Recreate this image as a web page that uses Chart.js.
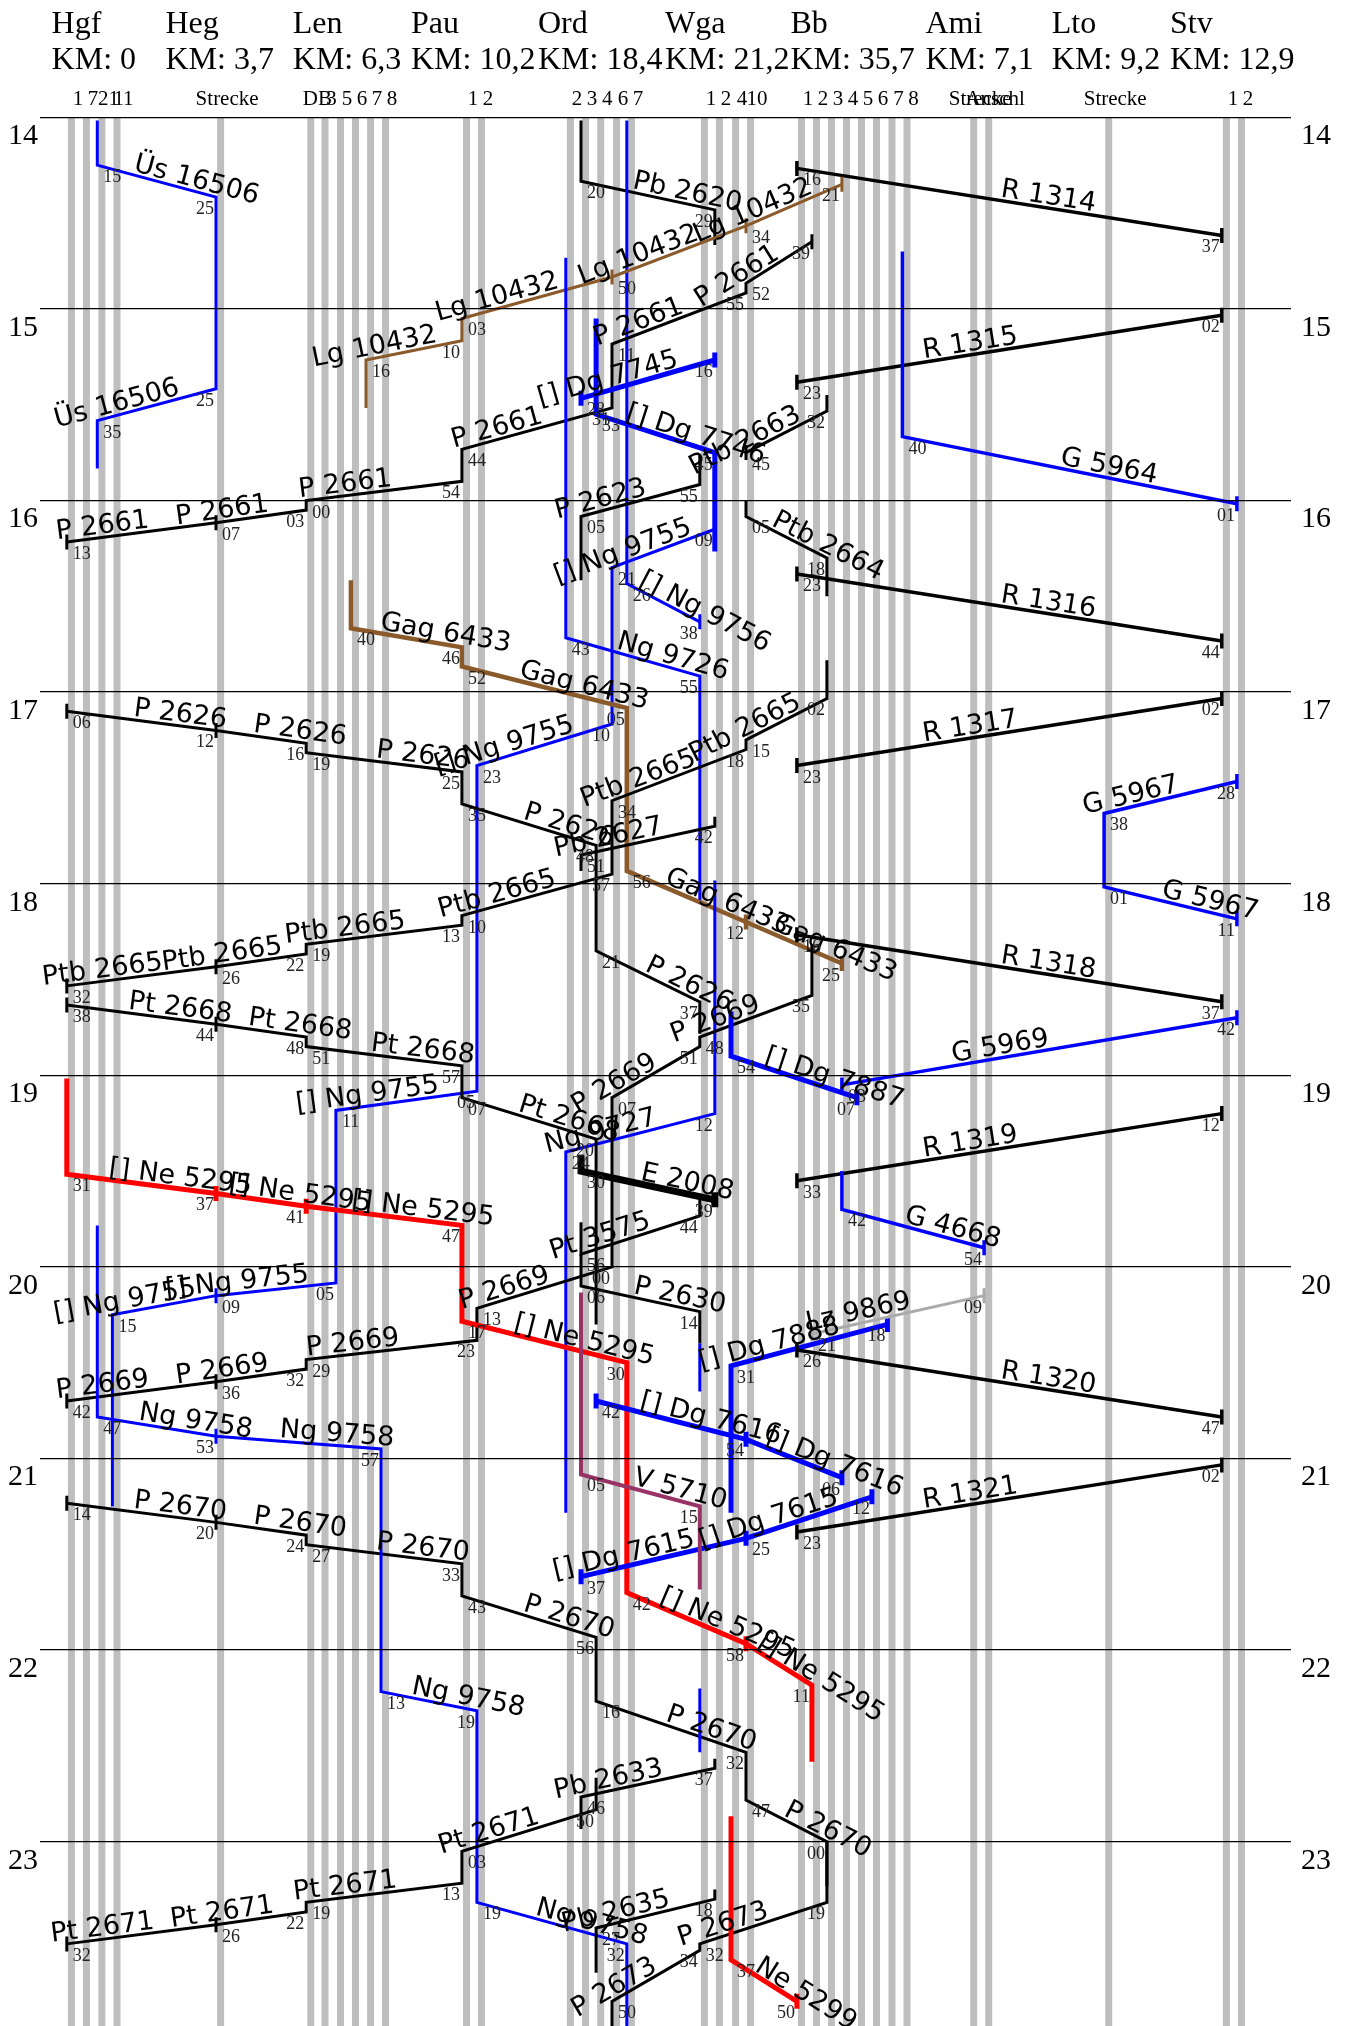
<!DOCTYPE html>
<html>
<head>
<meta charset="utf-8">
<title>Bildfahrplan Hgf - Stv</title>
<script src="https://cdn.jsdelivr.net/npm/chart.js@4/dist/chart.umd.min.js"></script>
<style>
  html, body { margin: 0; padding: 0; background: #fff; }
  canvas { display: block; }
</style>
</head>
<body>
<canvas id="graph" width="1348" height="2026"></canvas>
<script>
// ── Stations and tracks ───────────────────────────────────────────────────────
const STATION_NAMES = ["Hgf", "Heg", "Len", "Pau", "Ord", "Wga", "Bb", "Ami", "Lto", "Stv"];
const STATION_KM    = ["KM: 0", "KM: 3,7", "KM: 6,3", "KM: 10,2", "KM: 18,4", "KM: 21,2", "KM: 35,7", "KM: 7,1", "KM: 9,2", "KM: 12,9"];
const STATION_POS   = [51.6, 165.5, 292.8, 411, 538, 665, 790.4, 925.4, 1051.8, 1170];

const TRACK_IDS = ["Hg1", "Hg7", "Hg21", "Hg11", "He", "LeDB", "Le3", "Le5", "Le6", "Le7", "Le8", "Pa1", "Pa2",
  "Or2", "Or3", "Or4", "Or6", "Or7", "Wg1", "Wg2", "Wg4", "Wg10",
  "Bb1", "Bb2", "Bb3", "Bb4", "Bb5", "Bb6", "Bb7", "Bb8", "AmS", "AmA", "Lt", "St1", "St2"];
const TRACK_LABELS = ["1", "7", "21", "11", "Strecke", "DB", "3", "5", "6", "7", "8", "1", "2",
  "2", "3", "4", "6", "7", "1", "2", "4", "10",
  "1", "2", "3", "4", "5", "6", "7", "8", "Strecke", "Anschl", "Strecke", "1", "2"];
const TRACK_POS = [71.4, 86.4, 101.9, 117, 220.6, 310.8, 325, 340.5, 355.5, 370.6, 385.6, 466.5, 481.5,
  570.4, 585.6, 600.7, 616.6, 631.4, 704.4, 719.4, 735.6, 750.6,
  801.5, 816.5, 831.5, 846.5, 861.5, 876.5, 892, 907, 973.7, 988.7, 1108.7, 1226.4, 1241.5];

// ── Trains: "track time [m = print minute, t = print minute + tick]" ──────────
const TRAIN_NAMES = [
  "Üs 16506", "Pb 2620", "[] Ng 9756", "R 1314", "Lg 10432", "P 2661", "[] Dg 7745", "[] Dg 7746",
  "Ng 9726", "R 1315", "Ptb 2663", "P 2623", "Ptb 2664", "R 1316", "G 5964", "[] Ng 9755",
  "Gag 6433", "P 2626", "Pb 2627", "Ptb 2665", "R 1317", "G 5967", "R 1318", "Ng 9727",
  "P 2669", "Pt 2668", "[] Dg 7887", "G 5969", "R 1319", "G 4668", "[] Ne 5295", "Pt 3575",
  "E 2008", "P 2630", "", "[] Dg 7888", "Lz 9869", "R 1320", "[] Dg 7616", "[] Dg 7615",
  "V 5710", "R 1321", "P 2670", "", "Ng 9758", "Pb 2633", "Pt 2671", "Pb 2635", "P 2673", "Ne 5299",
];
const TRAIN_STOPS = [
  "Hg21 14:01,Hg21 14:15 m,He 14:25 m,He 15:25 m,Hg21 15:35 m,Hg21 15:50",
  "Or3 14:01,Or3 14:20 m,Wg2 14:29 m,Wg2 14:40",
  "Or7 14:01,Or7 16:26 m,Wg1 16:38 t",
  "Bb1 14:16 t,St1 14:37 t",
  "Le7 15:31,Le7 15:16 m,Pa1 15:10 m,Pa1 15:03 m,Or6 14:50 t,Wg10 14:34 t,Bb4 14:21 t",
  "Hg1 16:13 t,He 16:07 t,LeDB 16:03 m,LeDB 16:00 m,Pa1 15:54 m,Pa1 15:44 m,Or6 15:31 m,Or6 15:11 m,Wg10 14:55 m,Wg10 14:52 m,Bb2 14:39 t",
  "Or3 15:28 t,Wg2 15:16 t",
  "Or4 15:03,Or4 15:33 m,Wg2 15:45 m,Wg2 16:16",
  "Or2 14:44,Or2 16:43 m,Wg1 16:55 m,Wg1 18:06",
  "Bb1 15:23 t,St1 15:02 t",
  "Wg10 15:45 t,Bb3 15:32 m,Bb3 15:27",
  "Or3 16:25,Or3 16:05 m,Wg1 15:55 m,Wg1 15:46",
  "Wg10 16:00,Wg10 16:05 m,Bb3 16:18 m,Bb3 16:30",
  "Bb1 16:23 t,St1 16:44 t",
  "Bb8 14:42,Bb8 15:40 m,St2 16:01 t",
  "Wg2 16:09 m,Or6 16:21 m,Or6 17:10 m,Pa2 17:23 m,Pa2 19:05 m,Le5 19:11 m,Le5 20:05 m,He 20:09 t,Hg11 20:15 m,Hg11 21:15",
  "Le6 16:25,Le6 16:40 m,Pa1 16:46 m,Pa1 16:52 m,Or7 17:05 m,Or7 17:56 m,Wg10 18:12 t,Bb4 18:25 t",
  "Hg1 17:06 t,He 17:12 t,LeDB 17:16 m,LeDB 17:19 m,Pa1 17:25 m,Pa1 17:35 m,Or4 17:48 m,Or4 18:21 m,Wg1 18:37 m,Wg1 18:47",
  "Or3 17:56,Or3 17:51 m,Wg2 17:42 m,Wg2 17:39",
  "Hg1 18:32 t,He 18:26 t,LeDB 18:22 m,LeDB 18:19 m,Pa1 18:13 m,Pa1 18:10 m,Or6 17:57 m,Or6 17:34 m,Wg10 17:18 m,Wg10 17:15 m,Bb3 17:02 m,Bb3 16:50",
  "Bb1 17:23 t,St1 17:02 t",
  "St2 17:28 t,Lt 17:38 m,Lt 18:01 m,St2 18:11 t",
  "Bb1 18:16 t,St1 18:37 t",
  "Wg2 17:59,Wg2 19:12 m,Or2 19:24 m,Or2 21:17",
  "Hg1 20:42 t,He 20:36 t,LeDB 20:32 m,LeDB 20:29 m,Pa2 20:23 m,Pa2 20:13 m,Or6 20:00 m,Or6 19:07 m,Wg1 18:51 m,Wg1 18:48 m,Bb2 18:35 m,Bb2 18:19",
  "Hg1 18:38 t,He 18:44 t,LeDB 18:48 m,LeDB 18:51 m,Pa1 18:57 m,Pa1 19:07 m,Or4 19:20 m,Or4 20:18",
  "Wg4 18:40,Wg4 18:54 m,Bb5 19:07 t",
  "Bb4 19:03 t,St2 18:42 t",
  "Bb1 19:33 t,St1 19:12 t",
  "Bb4 19:30,Bb4 19:42 m,AmA 19:54 t",
  "Hg1 19:01,Hg1 19:31 m,He 19:37 t,LeDB 19:41 t,Pa1 19:47 m,Pa1 20:17 m,Or7 20:30 m,Or7 21:42 m,Wg10 21:58 t,Bb2 22:11 m,Bb2 22:35",
  "Wg1 19:38,Wg1 19:44 m,Or3 19:56 m,Or3 19:46",
  "Or3 19:25,Or3 19:30 m,Wg2 19:39 t",
  "Or3 19:56,Or3 20:06 m,Wg1 20:14 m,Wg1 20:24",
  "Wg1 20:24,Wg1 20:39",
  "Wg4 21:17,Wg4 20:31 m,Bb7 20:18 t",
  "Bb2 20:21 t,AmA 20:09 t",
  "Bb1 20:26 t,St1 20:47 t",
  "Or4 20:42 t,Wg10 20:54 t,Bb4 21:06 t",
  "Or3 21:37 t,Wg10 21:25 t,Bb6 21:12 t",
  "Or3 20:08,Or3 21:05 m,Wg1 21:15 m,Wg1 21:41",
  "Bb1 21:23 t,St1 21:02 t",
  "Hg1 21:14 t,He 21:20 t,LeDB 21:24 m,LeDB 21:27 m,Pa1 21:33 m,Pa1 21:43 m,Or4 21:56 m,Or4 22:16 m,Wg10 22:32 m,Wg10 22:47 m,Bb3 23:00 m,Bb3 23:14",
  "Wg1 22:12,Wg1 22:32",
  "Hg21 19:47,Hg21 20:47 m,He 20:53 t,Le8 20:57 m,Le8 22:13 m,Pa2 22:19 m,Pa2 23:19 m,Or7 23:32 m,Or7 23:58",
  "Or3 22:56,Or3 22:46 m,Wg2 22:37 m,Wg2 22:34",
  "Hg1 23:32 t,He 23:26 t,LeDB 23:22 m,LeDB 23:19 m,Pa1 23:13 m,Pa1 23:03 m,Or4 22:50 m,Or4 22:40",
  "Or4 23:41,Or4 23:27 m,Wg2 23:18 m,Wg2 23:15",
  "Or6 23:58,Or6 23:50 m,Wg1 23:34 m,Wg1 23:32 m,Bb3 23:19 m,Bb3 23:00",
  "Wg4 22:52,Wg4 23:37 m,Bb1 23:50 t",
];
const HOURS = [14, 15, 16, 17, 18, 19, 20, 21, 22, 23];

// ── Look ──────────────────────────────────────────────────────────────────────
const CLASS_STYLE = {
  "":  ["#0000ff", 3],   "Üs": ["#0000ff", 3],   "Ng": ["#0000ff", 3],   "G":   ["#0000ff", 3.5],
  Dg:  ["#0000ff", 5],   Ne:   ["#ff0000", 5],   R:    ["#000000", 3.5], E:     ["#000000", 7],
  P:   ["#000000", 3],   Pb:   ["#000000", 3],   Pt:   ["#000000", 3],   Ptb:   ["#000000", 3],
  Lg:  ["#8b5a2b", 3],   Gag:  ["#8b5a2b", 4.5], V:    ["#993366", 4],   Lz:    ["#aaaaaa", 3],
};
const LINE_OFFSET = -4.6;   // train lines run along the left side of the grey track bands
const Y_MIN = 14, Y_MAX = 14 + (2026 - 117.3) / 191.6;

const trackPos = id => TRACK_POS[TRACK_IDS.indexOf(id)];
const toHours  = t => { const [h, m] = t.split(":"); return +h + m / 60; };

const trains = TRAIN_NAMES.map((name, i) => ({
  name,
  style: CLASS_STYLE[name.replace("[] ", "").split(" ")[0]],
  stops: TRAIN_STOPS[i].split(",").map(s => {
    const [track, time, mark] = s.split(" ");
    return { x: trackPos(track) + LINE_OFFSET, y: toHours(time), time, mark };
  }),
}));

// ── Datasets ──────────────────────────────────────────────────────────────────
const bandSets = TRACK_POS.map(x => ({
  data: [{ x, y: Y_MIN }, { x, y: Y_MAX }],
  showLine: true, borderColor: "#bebebe", borderWidth: 7, pointRadius: 0, order: 1000,
}));
const trainSets = trains.map((t, i) => ({
  data: t.stops,
  showLine: true,
  borderColor: t.style[0],
  borderWidth: t.style[1],
  borderJoinStyle: "miter",
  tension: 0,
  pointStyle: "line",
  pointRotation: 90,
  pointBorderColor: t.style[0],
  pointBorderWidth: t.style[1],
  pointRadius: t.stops.map(s => s.mark === "t" ? 7.5 : 0),
  order: 100 - i,
}));

// ── Header, minute and train-name texts ───────────────────────────────────────
const textPlugin = {
  id: "graphTexts",
  afterDatasetsDraw(chart) {
    const { ctx, scales: { x, y } } = chart;
    ctx.save();
    ctx.fillStyle = "#000";
    ctx.textBaseline = "alphabetic";

    // station header
    ctx.font = "32px 'Liberation Serif'";
    ctx.textAlign = "left";
    STATION_NAMES.forEach((n, i) => {
      ctx.fillText(n, x.getPixelForValue(STATION_POS[i]), 33);
      ctx.fillText(STATION_KM[i], x.getPixelForValue(STATION_POS[i]), 69);
    });

    trains.forEach(t => {
      const st = t.stops;
      // minute labels
      ctx.fillStyle = "#222";
      ctx.font = "18px 'Liberation Serif'";
      st.forEach((s, i) => {
        if (!s.mark) return;
        const prev = st[i - 1], next = st[i + 1];
        const pSloped = prev && prev.x !== s.x, nSloped = next && next.x !== s.x;
        let other = pSloped ? prev : next;
        if (pSloped && nSloped) other = prev.y < next.y ? prev : next;
        const right = other && other.x > s.x;
        ctx.textAlign = right ? "left" : "right";
        ctx.fillText(s.time.slice(3), x.getPixelForValue(s.x) + (right ? 6 : -2), y.getPixelForValue(s.y) + 17);
      });
      // train name over each sloped section
      if (!t.name) return;
      ctx.fillStyle = "#000";
      ctx.font = "27px 'DejaVu Sans'";
      ctx.textAlign = "center";
      st.slice(1).forEach((b, i) => {
        const a = st[i];
        if (a.x === b.x) return;
        const [l, r] = a.x < b.x ? [a, b] : [b, a];
        const x0 = x.getPixelForValue(l.x), y0 = y.getPixelForValue(l.y);
        const x1 = x.getPixelForValue(r.x), y1 = y.getPixelForValue(r.y);
        const slope = (y1 - y0) / (x1 - x0);
        const px = (x0 + x1) / 2 + (slope > 0 ? 38 : -38);
        const py = y0 + (px - x0) * slope - 4;
        ctx.save();
        ctx.translate(px, py);
        ctx.rotate(Math.atan(slope));
        ctx.fillText(t.name, 0, 0);
        ctx.restore();
      });
    });
    ctx.restore();
  },
};

// ── Chart ─────────────────────────────────────────────────────────────────────
const hourTicks = {
  labelOffset: 19,
  color: "#000",
  font: { family: "'Liberation Serif'", size: 30 },
  callback: v => v,
};
const onlyHours = s => { s.ticks = HOURS.map(value => ({ value })); };
// fixed axis sizes, without the extra room Chart.js keeps for overhanging tick labels
const fitBox = size => s => {
  Object.assign(s, size, { paddingTop: 0, paddingBottom: 0, paddingLeft: 0, paddingRight: 0 });
};

new Chart(document.getElementById("graph").getContext("2d"), {
  type: "scatter",
  data: { datasets: [...bandSets, ...trainSets] },
  plugins: [textPlugin],
  options: {
    responsive: false,
    animation: false,
    events: [],
    layout: { padding: 0, autoPadding: false },
    plugins: { legend: { display: false }, tooltip: { enabled: false } },
    scales: {
      x: {
        type: "linear", position: "top", min: 40, max: 1291,
        grid: { display: false }, border: { display: false },
        afterBuildTicks: s => { s.ticks = TRACK_POS.map(value => ({ value })); },
        afterFit: fitBox({ height: 117.3 }),
        ticks: {
          autoSkip: false, maxRotation: 0, minRotation: 0, padding: -3, labelOffset: 6.5,
          color: "#000",
          font: { family: "'Liberation Serif'", size: 21 },
          callback: v => TRACK_LABELS[TRACK_POS.indexOf(v)],
        },
      },
      y: {
        type: "linear", position: "left", reverse: true, min: Y_MIN, max: Y_MAX,
        grid: { color: "#000", lineWidth: 1.3, drawTicks: false, z: 1 },
        border: { display: false },
        afterBuildTicks: onlyHours,
        afterFit: fitBox({ width: 40 }),
        ticks: { ...hourTicks, padding: 2 },
      },
      y2: {
        type: "linear", position: "right", reverse: true, min: Y_MIN, max: Y_MAX,
        grid: { display: false, drawTicks: false }, border: { display: false },
        afterBuildTicks: onlyHours,
        afterFit: fitBox({ width: 57 }),
        ticks: { ...hourTicks, padding: 10 },
      },
    },
  },
});
</script>
</body>
</html>
